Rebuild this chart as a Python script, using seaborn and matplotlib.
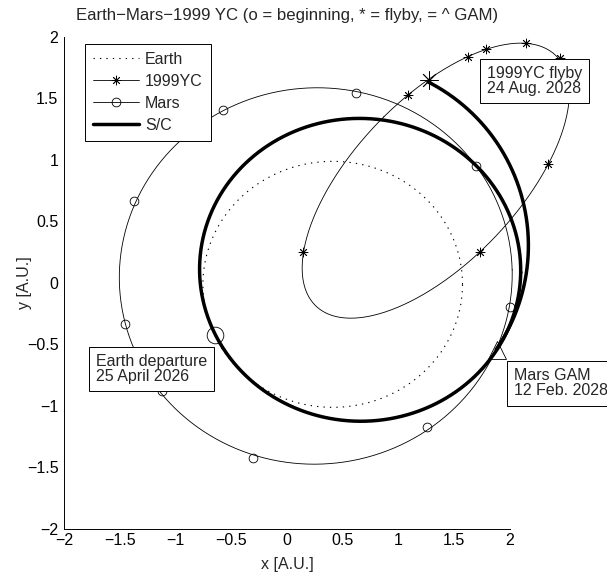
import numpy as np
import matplotlib
matplotlib.use("Agg")
import matplotlib.pyplot as plt
import seaborn as sns
from matplotlib.lines import Line2D

# Orbit ellipses: [centre x, centre y, semi-axis 1, semi-axis 2, tilt of axis 1 (deg)], in A.U.
earth_orbit = [0.410, -0.011, 1.164, 1.000, 0.0]
yc_orbit = [1.334, 0.832, 0.697, 1.483, 131.9]
mars_orbit = [0.258, 0.057, 1.762, 1.530, 1.6]
sc_orbit = [0.656, 0.107, 1.440, 1.231, -0.8]
# Spacecraft leg after the Mars gravity assist (partial ellipse) and its anomaly range (rad)
sc_gam_orbit = [0.5175, 0.304, 1.6475, 1.4935, 0.0]
sc_gam_range = [-0.601, 1.100]

# Dated positions along the orbits
mars_x = [-0.574, 0.619, -1.372, -1.453, -1.121, -0.305, 1.256, 2.000, 1.695]
mars_y = [1.407, 1.545, 0.667, -0.333, -0.878, -1.423, -1.171, -0.195, 0.951]
yc_x = [0.143, 1.731, 2.341, 2.448, 2.143, 1.785, 1.623, 1.085]
yc_y = [0.252, 0.252, 0.967, 1.829, 1.951, 1.902, 1.837, 1.528]

# Mission events
departure = [-0.646, -0.423]
gam = [1.883, -0.545]
flyby = [1.274, 1.650]

ticks = [-2, -1.5, -1, -0.5, 0, 0.5, 1, 1.5, 2]
tick_labels = ["\u22122", "\u22121.5", "\u22121", "\u22120.5", "0", "0.5", "1", "1.5", "2"]

title = "Earth\u2212Mars\u22121999 YC (o = beginning, * = flyby, = ^ GAM)"
notes = [("Earth departure\n25 April 2026", -1.713, -0.699),
         ("1999YC flyby\n24 Aug. 2028", 1.794, 1.642),
         ("Mars GAM\n12 Feb. 2028", 2.036, -0.817)]


def ellipse(p, t):
    x0, y0, a1, a2, ang = p
    th = np.radians(ang)
    x = x0 + a1 * np.cos(t) * np.cos(th) - a2 * np.sin(t) * np.sin(th)
    y = y0 + a1 * np.cos(t) * np.sin(th) + a2 * np.sin(t) * np.cos(th)
    return x, y


sns.set_style("white")
plt.rcParams['font.family'] = ['Liberation Sans', 'DejaVu Sans']
FS = 11.5

fig = plt.figure(figsize=(6.07, 5.78), dpi=100)
ax = fig.add_axes([0.1054, 0.0848, 0.7348, 0.8512])

full = np.linspace(0, 2 * np.pi, 500)
thin = 0.6
thick = 2.5
earth_dash = (0, (1.2, 4.6))

def curve(p, t, **kw):
    x, y = ellipse(p, t)
    sns.lineplot(x=x, y=y, sort=False, estimator=None, color='k', ax=ax,
                 clip_on=False, **kw)

def marks(x, y, **kw):
    sns.lineplot(x=x, y=y, sort=False, estimator=None, ax=ax, linestyle='',
                 clip_on=False, markerfacecolor='none', markeredgecolor='k',
                 color='k', zorder=4, **kw)

curve(earth_orbit, full, lw=0.8, linestyle=earth_dash)
curve(yc_orbit, full, lw=thin)
curve(mars_orbit, full, lw=thin)
curve(sc_orbit, full, lw=thick, zorder=3)
curve(sc_gam_orbit, np.linspace(*sc_gam_range, 200), lw=thick, zorder=3)

marks(mars_x, mars_y, marker='o', markersize=6.3, markeredgewidth=thin)
marks(yc_x, yc_y, marker=(8, 2, 0), markersize=6.8, markeredgewidth=thin)
marks([departure[0]], [departure[1]], marker='o', markersize=12, markeredgewidth=thin)
marks([flyby[0]], [flyby[1]], marker=(8, 2, 0), markersize=13, markeredgewidth=thin)
marks([gam[0]], [gam[1]], marker='^', markersize=13, markeredgewidth=thin)

ax.set_xlim(-2, 2)
ax.set_ylim(-2, 2)
ax.set_xticks(ticks)
ax.set_xticklabels(tick_labels)
ax.set_yticks(ticks)
ax.set_yticklabels(tick_labels)
ax.tick_params(direction='in', length=3.2, width=0.6, labelsize=FS, color='k',
               labelcolor='k')
ax.tick_params(axis='x', pad=3)
ax.tick_params(axis='y', pad=4)
sns.despine(ax=ax)
for s in ('left', 'bottom'):
    ax.spines[s].set_color('k')
    ax.spines[s].set_linewidth(0.7)

ax.set_xlabel("x [A.U.]", fontsize=FS)
ax.set_ylabel("y [A.U.]", fontsize=FS)
ax.xaxis.set_label_coords(0.5, -0.056)
ax.yaxis.set_label_coords(-0.072, 0.5)
ax.set_title(title, fontsize=12.1, pad=12.5)

for text, x, y in notes:
    ax.text(x, y, text, fontsize=FS, ha='left', va='center', linespacing=1.0,
            zorder=6, clip_on=False,
            bbox=dict(boxstyle='square,pad=0.45', fc='w', ec='k', lw=0.7))

handles = [
    Line2D([], [], color='k', lw=0.8, linestyle=earth_dash),
    Line2D([], [], color='k', lw=thin, marker=(8, 2, 0), markersize=6.8,
           markeredgewidth=thin),
    Line2D([], [], color='k', lw=thin, marker='o', markersize=6.3,
           markerfacecolor='none', markeredgewidth=thin),
    Line2D([], [], color='k', lw=thick),
]
leg = ax.legend(handles, ["Earth", "1999YC", "Mars", "S/C"], loc='upper left',
                bbox_to_anchor=(0.0471, 0.9858), borderaxespad=0, fontsize=FS,
                frameon=True, fancybox=False, edgecolor='k', framealpha=1,
                handlelength=2.9, handletextpad=0.35, labelspacing=0.44,
                borderpad=0.5)
leg.get_frame().set_linewidth(0.7)
leg.set_zorder(7)

fig.savefig("out.png", dpi=100)
